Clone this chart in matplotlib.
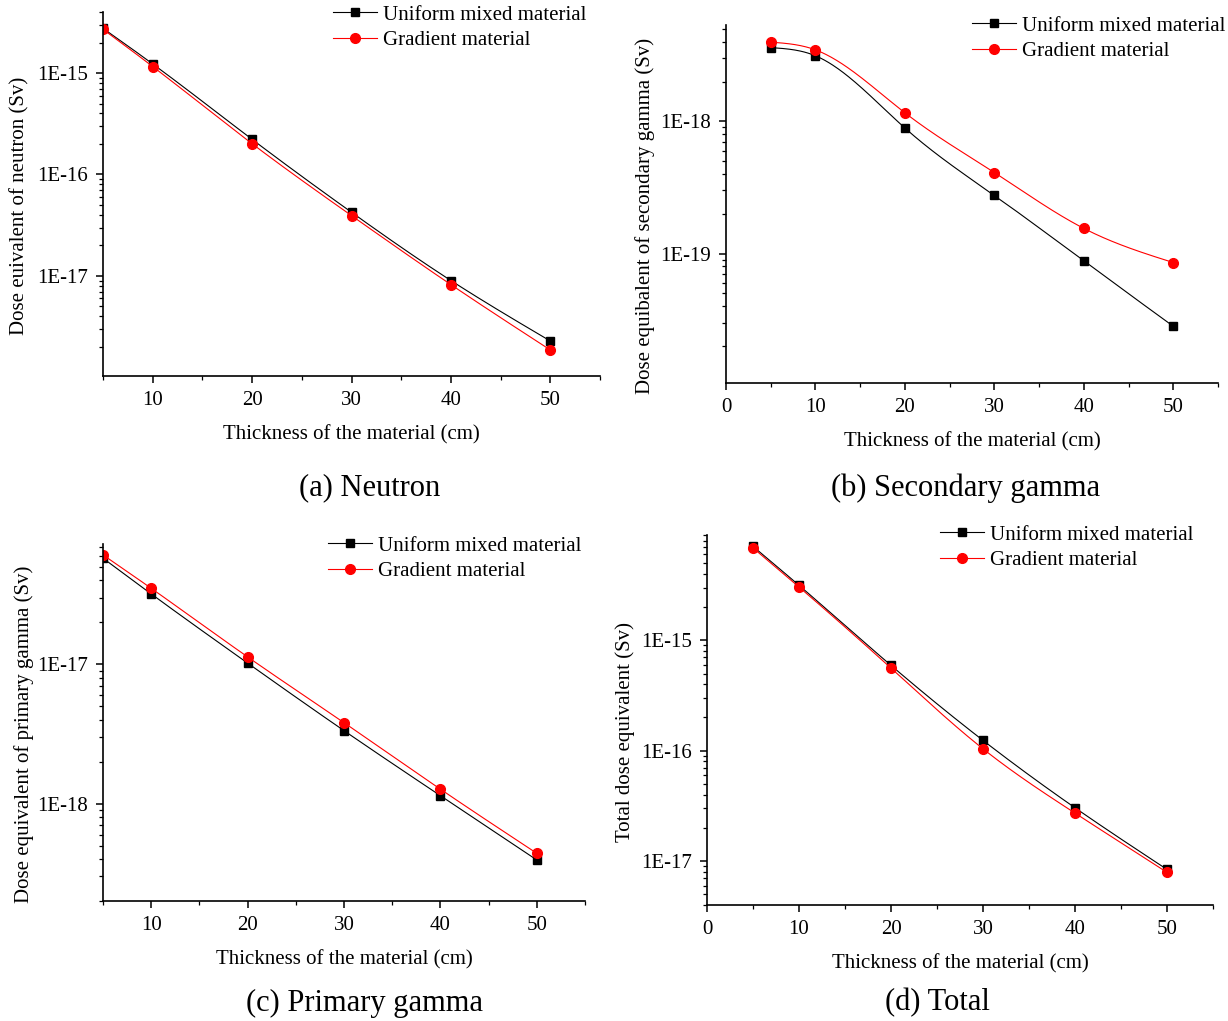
import numpy as np
import matplotlib
matplotlib.use("Agg")
import matplotlib.pyplot as plt
from matplotlib.lines import Line2D
from matplotlib.ticker import LogLocator, FixedLocator, NullFormatter, FuncFormatter

plt.rcParams['font.family'] = ['Liberation Serif', 'DejaVu Serif']

thickness = [5, 10, 20, 30, 40, 50]

neutron_uniform = [2.76e-15, 1.23e-15, 2.22e-16, 4.24e-17, 9.0e-18, 2.28e-18]
neutron_gradient = [2.70e-15, 1.16e-15, 2.01e-16, 3.93e-17, 8.2e-18, 1.86e-18]

secondary_uniform = [3.61e-18, 3.13e-18, 8.9e-19, 2.75e-19, 8.8e-20, 2.82e-20]
secondary_gradient = [3.97e-18, 3.47e-18, 1.16e-18, 4.1e-19, 1.55e-19, 8.55e-20]

primary_uniform = [5.77e-17, 3.2e-17, 1.02e-17, 3.34e-18, 1.14e-18, 3.94e-19]
primary_gradient = [6.1e-17, 3.51e-17, 1.13e-17, 3.81e-18, 1.27e-18, 4.4e-19]

total_uniform = [7.1e-15, 3.15e-15, 5.93e-16, 1.24e-16, 3.04e-17, 8.4e-18]
total_gradient = [6.87e-15, 3.04e-15, 5.6e-16, 1.04e-16, 2.72e-17, 7.9e-18]

series_labels = ['Uniform mixed material', 'Gradient material']
captions = ['(a) Neutron', '(b) Secondary gamma', '(c) Primary gamma', '(d) Total']
ylabels = ['Dose euivalent of neutron (Sv)',
           'Dose equibalent of secondary gamma (Sv)',
           'Dose equivalent of primary gamma (Sv)',
           'Total dose equivalent (Sv)']
xlabel = 'Thickness of the material (cm)'


def spline_path(x, y, n=300):
    """natural cubic spline through the points, in log10 space (like Origin's spline line)"""
    x = np.asarray(x, float)
    ly = np.log10(np.asarray(y, float))
    k = len(x)
    h = np.diff(x)
    A = np.zeros((k, k))
    b = np.zeros(k)
    A[0, 0] = A[-1, -1] = 1
    for i in range(1, k - 1):
        A[i, i - 1] = h[i - 1]
        A[i, i] = 2 * (h[i - 1] + h[i])
        A[i, i + 1] = h[i]
        b[i] = 6 * ((ly[i + 1] - ly[i]) / h[i] - (ly[i] - ly[i - 1]) / h[i - 1])
    M = np.linalg.solve(A, b)
    t = np.linspace(x[0], x[-1], n)
    idx = np.clip(np.searchsorted(x, t) - 1, 0, k - 2)
    x0, x1 = x[idx], x[idx + 1]
    hh = x1 - x0
    s = (M[idx] * (x1 - t) ** 3 / (6 * hh) + M[idx + 1] * (t - x0) ** 3 / (6 * hh)
         + (ly[idx] / hh - M[idx] * hh / 6) * (x1 - t)
         + (ly[idx + 1] / hh - M[idx + 1] * hh / 6) * (t - x0))
    return t, 10 ** s


W, H = 1228, 1021
fig = plt.figure(figsize=(W / 100, H / 100), dpi=100)


def px_axes(l, t, r, b):
    return fig.add_axes([l / W, 1 - b / H, (r - l) / W, (b - t) / H])


panels = [
    dict(box=(103, 12, 600, 376), data=(neutron_uniform, neutron_gradient),
         ylim=(1.03e-18, 4.0e-15), decades=[1e-17, 1e-16, 1e-15],
         xlim=(5, 55), xmaj=[10, 20, 30, 40, 50],
         leg=(333, 5), cap=(370, 488), ylab_x=20),
    dict(box=(726, 25, 1218, 383), data=(secondary_uniform, secondary_gradient),
         ylim=(1.05e-20, 5.35e-18), decades=[1e-19, 1e-18],
         xlim=(0, 55), xmaj=[0, 10, 20, 30, 40, 50],
         leg=(972, 16), cap=(966, 488), ylab_x=645),
    dict(box=(103, 544, 585, 901), data=(primary_uniform, primary_gradient),
         ylim=(2.0e-19, 7.3e-17), decades=[1e-18, 1e-17],
         xlim=(5, 55), xmaj=[10, 20, 30, 40, 50],
         leg=(328, 536), cap=(364, 1003), ylab_x=24),
    dict(box=(707, 535, 1213, 905), data=(total_uniform, total_gradient),
         ylim=(4.0e-18, 9.0e-15), decades=[1e-17, 1e-16, 1e-15],
         xlim=(0, 55), xmaj=[0, 10, 20, 30, 40, 50],
         leg=(940, 525), cap=(937, 1003), ylab_x=625),
]

fmt = FuncFormatter(lambda v, p: '1E%d' % int(round(np.log10(v))))

for i, p in enumerate(panels):
    ax = px_axes(*p['box'])
    uni, grad = p['data']
    for vals, col, mk, ms in [(uni, 'black', 's', 6.2), (grad, 'red', 'o', 7)]:
        xs, ys = spline_path(thickness, vals)
        ax.plot(xs, ys, color=col, lw=0.8)
        ax.plot(thickness, vals, linestyle='none', marker=mk, color=col, ms=ms)
    ax.set_yscale('log')
    ax.set_xlim(*p['xlim'])
    ax.set_ylim(*p['ylim'])
    ax.xaxis.set_major_locator(FixedLocator(p['xmaj']))
    ax.xaxis.set_minor_locator(FixedLocator([5, 15, 25, 35, 45, 55]))
    ax.yaxis.set_major_locator(FixedLocator(p['decades']))
    ax.yaxis.set_minor_locator(LogLocator(base=10, subs=np.arange(2, 10), numticks=20))
    ax.yaxis.set_major_formatter(fmt)
    ax.yaxis.set_minor_formatter(NullFormatter())
    for side in ['top', 'right']:
        ax.spines[side].set_visible(False)
    for side in ['left', 'bottom']:
        ax.spines[side].set_linewidth(1.2)
    ax.tick_params(which='major', direction='out', length=5, width=1.1, labelsize=15, pad=6)
    ax.tick_params(which='minor', direction='out', length=3, width=0.9)
    ax.set_xlabel(xlabel, fontsize=15, labelpad=11)
    ax.set_ylabel(ylabels[i], fontsize=15)
    l, t, r, b = p['box']
    ax.yaxis.set_label_coords((p['ylab_x'] - l) / (r - l), 0.467)
    ax.yaxis.label.set_verticalalignment('center')

    handles = [Line2D([], [], color='black', lw=0.8, marker='s', ms=6.2),
               Line2D([], [], color='red', lw=0.8, marker='o', ms=7)]
    lx, ly = p['leg']
    fig.legend(handles, series_labels, loc='upper left',
               bbox_to_anchor=(lx / W, 1 - ly / H), bbox_transform=fig.transFigure,
               frameon=False, fontsize=15, borderpad=0, borderaxespad=0,
               handlelength=2.1, handletextpad=0.3, labelspacing=0.3)

    cx, cy = p['cap']
    fig.text(cx / W, 1 - cy / H, captions[i], fontsize=22, ha='center', va='center')

fig.savefig('out.png', dpi=100)
